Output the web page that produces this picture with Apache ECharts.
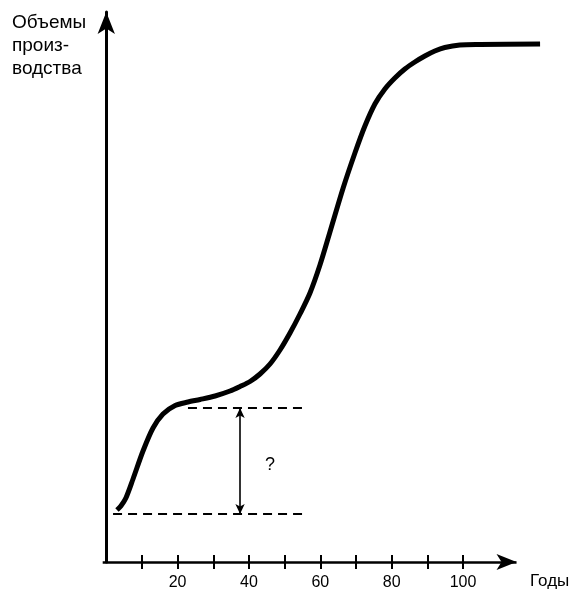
<!DOCTYPE html>
<html><head><meta charset="utf-8">
<script src="https://cdn.jsdelivr.net/npm/echarts@6/dist/echarts.min.js"></script>
<style>html,body{margin:0;padding:0;background:#fff}#c{width:576px;height:591px}</style>
</head><body><div id="c"></div>
<script>
// ---- data ----
const years  = [3.0, 4.1, 5.5, 7.5, 10.3, 13.1, 15.9, 19.3, 22.9, 26.3, 30.5, 34.7, 37.5, 40.3, 43.1, 45.9, 48.7, 51.5, 54.3, 57.1, 59.9, 62.7, 66.4, 69.7, 72.5, 75.3, 78.1, 80.9, 83.7, 86.5, 89.3, 92.1, 94.9, 99.1, 104.8, 121.6];
const output = [10.4, 11.2, 12.8, 16.6, 22.2, 26.8, 29.6, 31.3, 32.0, 32.5, 33.2, 34.2, 35.1, 36.1, 37.6, 39.6, 42.4, 45.8, 49.6, 53.8, 59.4, 66.0, 74.8, 81.8, 87.2, 91.6, 94.6, 96.8, 98.6, 100.0, 101.2, 102.2, 102.9, 103.4, 103.5, 103.6];
const tickYears  = [10, 20, 30, 40, 50, 60, 70, 80, 90, 100];
const labelYears = [20, 40, 60, 80, 100];
const lowerLevel = 9.6;
const upperLevel = 30.8;
const lowerDashYears = [1.9, 55.2];
const upperDashYears = [22.9, 55.2];
const gapYear = 37.5;
const gapArrowLevels = [30.8, 9.6];
const questionPoint = [45.9, 19.4];
const xAxisStart = -1;
const xAxisArrowEnd = 115;
const yLabel = 'Объемы\nпроиз-\nводства';
const xLabel = 'Годы';

const chart = echarts.init(document.getElementById('c'), null, {renderer: 'canvas'});
const FONT = '"Liberation Sans", Arial, sans-serif';
const dashStyle = {color: '#000', width: 1.8, type: [9, 6]};

chart.setOption({
  animation: false,
  backgroundColor: '#fff',
  grid: {left: 102.7, right: 34.5, top: 12, bottom: 29, containLabel: false},
  xAxis: [{
    type: 'value', min: xAxisStart, max: 122,
    axisLine: {show: false},
    axisTick: {show: true, inside: false, length: 7, lineStyle: {color: '#000', width: 2}, customValues: tickYears},
    axisLabel: {show: true, margin: 13, color: '#000', fontSize: 16, fontFamily: FONT, customValues: labelYears},
    splitLine: {show: false}
  }, {
    type: 'value', min: xAxisStart, max: 122, position: 'bottom',
    axisLine: {show: false},
    axisTick: {show: true, inside: true, length: 7, lineStyle: {color: '#000', width: 2}, customValues: tickYears},
    axisLabel: {show: false},
    splitLine: {show: false}
  }],
  yAxis: {
    type: 'value', min: 0, max: 110,
    axisLine: {show: true, lineStyle: {color: '#000', width: 3}, symbol: ['none', 'arrow'], symbolSize: [13, 22]},
    axisTick: {show: false}, axisLabel: {show: false}, splitLine: {show: false}
  },
  graphic: [
    {type: 'text', left: 12, top: 11, style: {text: yLabel, font: '19px ' + FONT, lineHeight: 23, fill: '#000'}},
    {type: 'text', left: 530, top: 573, style: {text: xLabel, font: '17px ' + FONT, fill: '#000'}}
  ],
  series: [
    {
      type: 'line', name: 'curve', clip: false, silent: true,
      data: years.map((y, i) => [y, output[i]]),
      smooth: 0.3, symbol: 'none',
      lineStyle: {color: '#000', width: 5},
      markLine: {
        silent: true, symbol: ['none', 'arrow'], symbolSize: [12, 20],
        label: {show: false},
        lineStyle: {color: '#000', width: 2.5, type: 'solid'},
        data: [[{coord: [xAxisStart, 0]}, {coord: [xAxisArrowEnd, 0]}]]
      }
    },
    {
      type: 'line', name: 'lower', clip: false, silent: true, symbol: 'none',
      data: lowerDashYears.map(y => [y, lowerLevel]),
      lineStyle: dashStyle,
      markLine: {
        silent: true, symbol: ['arrow', 'arrow'], symbolSize: [7, 10],
        label: {show: false},
        lineStyle: {color: '#000', width: 1.6, type: 'solid'},
        data: [[{coord: [gapYear, gapArrowLevels[0]]}, {coord: [gapYear, gapArrowLevels[1]]}]]
      }
    },
    {
      type: 'line', name: 'upper', clip: false, silent: true, symbol: 'none',
      data: upperDashYears.map(y => [y, upperLevel]),
      lineStyle: dashStyle
    },
    {
      type: 'scatter', silent: true, symbolSize: 1, itemStyle: {color: 'rgba(0,0,0,0)'},
      data: [questionPoint],
      label: {show: true, position: 'inside', formatter: '?', fontSize: 18, fontFamily: FONT, color: '#000', opacity: 1}
    }
  ]
});
</script>
</body></html>
